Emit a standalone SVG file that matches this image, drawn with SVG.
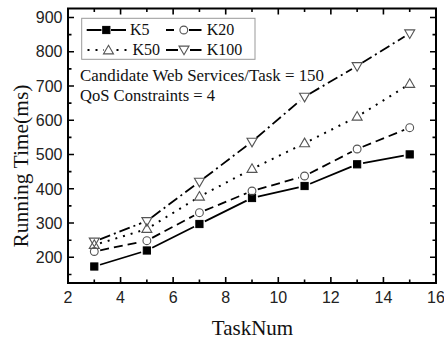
<svg xmlns="http://www.w3.org/2000/svg" xmlns:xlink="http://www.w3.org/1999/xlink" width="444" height="340" viewBox="0 0 444 340">
<style>
.ax{fill:none;stroke:#000;stroke-width:2}
.tk{fill:none;stroke:#000;stroke-width:1.6}
.num{font-family:"Liberation Sans",Arial,sans-serif;font-size:16px;fill:#222}
.lab{font-family:"Liberation Serif","Times New Roman",serif;fill:#111}
.s5{fill:none;stroke:#000;stroke-width:1.8}
.s20{fill:none;stroke:#000;stroke-width:1.8;stroke-dasharray:9 5}
.s50{fill:none;stroke:#000;stroke-width:2;stroke-dasharray:2 6}
.s100{fill:none;stroke:#000;stroke-width:1.8;stroke-dasharray:11 4 2 4}
.mk{fill:none;stroke:#555;stroke-width:1.1}
.mf{fill:#000;stroke:#000;stroke-width:1}
</style>
<defs>
<rect id="sq" x="-3.6" y="-3.6" width="7.2" height="7.2" class="mf"/>
<circle id="ci" cx="0" cy="0" r="3.9" class="mk"/>
<polygon id="tu" points="0,-5.2 5,3.4 -5,3.4" class="mk"/>
<polygon id="td" points="0,5.2 5,-3.4 -5,-3.4" class="mk"/>
</defs>
<rect width="444" height="340" fill="#fff"/>
<g id="axes">
<rect class="ax" x="68" y="8.5" width="368" height="274.5"/>
<path class="tk" d="M120.57,283V277M173.14,283V277M225.71,283V277M278.29,283V277M330.86,283V277M383.43,283V277M94.29,283V279.5M146.86,283V279.5M199.43,283V279.5M252,283V279.5M304.57,283V279.5M357.14,283V279.5M409.71,283V279.5"/>
<path class="tk" d="M120.57,8.5V14.5M173.14,8.5V14.5M225.71,8.5V14.5M278.29,8.5V14.5M330.86,8.5V14.5M383.43,8.5V14.5M94.29,8.5V12M146.86,8.5V12M199.43,8.5V12M252,8.5V12M304.57,8.5V12M357.14,8.5V12M409.71,8.5V12"/>
<path class="tk" d="M68,17.48H74M68,51.74H74M68,86H74M68,120.27H74M68,154.53H74M68,188.79H74M68,223.05H74M68,257.3H74M68,34.61H71.5M68,68.87H71.5M68,103.13H71.5M68,137.4H71.5M68,171.66H71.5M68,205.92H71.5M68,240.18H71.5M68,274.44H71.5"/>
<path class="tk" d="M436,17.48H430M436,51.74H430M436,86H430M436,120.27H430M436,154.53H430M436,188.79H430M436,223.05H430M436,257.3H430M436,34.61H432.5M436,68.87H432.5M436,103.13H432.5M436,137.4H432.5M436,171.66H432.5M436,205.92H432.5M436,240.18H432.5M436,274.44H432.5"/>
<g class="num" text-anchor="end">
<text x="62.5" y="23.2">900</text>
<text x="62.5" y="57.4">800</text>
<text x="62.5" y="91.7">700</text>
<text x="62.5" y="126">600</text>
<text x="62.5" y="160.2">500</text>
<text x="62.5" y="194.5">400</text>
<text x="62.5" y="228.7">300</text>
<text x="62.5" y="263">200</text>
</g>
<g class="num" text-anchor="middle">
<text x="68" y="302.5">2</text>
<text x="120.57" y="302.5">4</text>
<text x="173.14" y="302.5">6</text>
<text x="225.71" y="302.5">8</text>
<text x="278.29" y="302.5">10</text>
<text x="330.86" y="302.5">12</text>
<text x="383.43" y="302.5">14</text>
<text x="436" y="302.5">16</text>
</g>
<text class="lab" x="252.5" y="335" font-size="21" text-anchor="middle">TaskNum</text>
<text class="lab" transform="translate(28,166) rotate(-90)" font-size="22" text-anchor="middle" textLength="163" lengthAdjust="spacingAndGlyphs">Running Time(ms)</text>
</g>
<g id="connectors">
<g id="line-K5" class="s5">
<path d="M100.03,264.75L141.12,252.25M152.22,247.8L194.07,226.7M204.81,221.34L246.62,200.66M257.85,196.66L298.72,187.34M310.12,183.71L351.59,166.59M363.04,163.19L403.81,155.51"/>
</g>
<g id="line-K20" class="s20">
<path d="M100.17,250.29L140.98,241.91"/><path d="M152.16,237.88L194.13,215.52"/><path d="M204.98,210.41L246.45,193.29"/><path d="M257.77,189.35L298.8,177.65"/><path d="M309.91,173.26L351.8,151.74"/><path d="M362.7,146.75L404.15,129.95"/>
</g>
<g id="line-K50" class="s50">
<path d="M100.03,243.25L141.12,230.75"/><path d="M151.97,225.86L194.32,199.84"/><path d="M204.74,193.9L246.69,171.8"/><path d="M257.39,166.36L299.18,145.94"/><path d="M309.92,140.59L351.79,119.41"/><path d="M362.23,113.53L404.62,87.17"/>
</g>
<g id="line-K100" class="s100">
<path d="M99.88,239.32L141.27,223.18"/><path d="M151.67,217.41L194.62,185.29"/><path d="M204.2,178.07L247.23,145.33"/><path d="M256.56,137.8L300.01,100.6"/><path d="M309.75,93.67L351.96,69.03"/><path d="M362.23,62.83L404.62,36.47"/>
</g>
</g>
<g id="markers-K5">
<use xlink:href="#sq" x="94.29" y="266.5"/><use xlink:href="#sq" x="146.86" y="250.5"/><use xlink:href="#sq" x="199.43" y="224"/><use xlink:href="#sq" x="252" y="198"/><use xlink:href="#sq" x="304.57" y="186"/><use xlink:href="#sq" x="357.14" y="164.3"/><use xlink:href="#sq" x="409.71" y="154.4"/>
</g>
<g id="markers-K20">
<use xlink:href="#ci" x="94.29" y="251.5"/><use xlink:href="#ci" x="146.86" y="240.7"/><use xlink:href="#ci" x="199.43" y="212.7"/><use xlink:href="#ci" x="252" y="191"/><use xlink:href="#ci" x="304.57" y="176"/><use xlink:href="#ci" x="357.14" y="149"/><use xlink:href="#ci" x="409.71" y="127.7"/>
</g>
<g id="markers-K50">
<use xlink:href="#tu" x="94.29" y="245"/><use xlink:href="#tu" x="146.86" y="229"/><use xlink:href="#tu" x="199.43" y="196.7"/><use xlink:href="#tu" x="252" y="169"/><use xlink:href="#tu" x="304.57" y="143.3"/><use xlink:href="#tu" x="357.14" y="116.7"/><use xlink:href="#tu" x="409.71" y="84"/>
</g>
<g id="markers-K100">
<use xlink:href="#td" x="94.29" y="241.5"/><use xlink:href="#td" x="146.86" y="221"/><use xlink:href="#td" x="199.43" y="181.7"/><use xlink:href="#td" x="252" y="141.7"/><use xlink:href="#td" x="304.57" y="96.7"/><use xlink:href="#td" x="357.14" y="66"/><use xlink:href="#td" x="409.71" y="33.3"/>
</g>
<g id="legend">
<rect x="81.7" y="18.3" width="173.3" height="41" fill="#fff" stroke="#999" stroke-width="1"/>
<path class="s5" d="M86.7,30H101.5M111,30H126"/>
<use xlink:href="#sq" x="106.3" y="30"/>
<path d="M166,30H174M189,30H201.5" fill="none" stroke="#000" stroke-width="1.8"/>
<use xlink:href="#ci" x="183.8" y="30"/>
<path class="s50" d="M87.5,50H104"/><path class="s50" d="M116.5,50H130"/>
<use xlink:href="#tu" x="108.5" y="50.5"/>
<path d="M166,50H178M190,50H201.5" fill="none" stroke="#000" stroke-width="1.8"/>
<use xlink:href="#td" x="184" y="49.5"/>
<g class="lab" font-size="16">
<text x="130" y="35">K5</text>
<text x="206.7" y="35">K20</text>
<text x="132.5" y="55">K50</text>
<text x="206.7" y="55">K100</text>
</g>
</g>
<g id="notes" class="lab" font-size="17">
<text x="80" y="80.7" textLength="244" lengthAdjust="spacingAndGlyphs">Candidate Web Services/Task = 150</text>
<text x="80" y="100.7" textLength="135" lengthAdjust="spacingAndGlyphs">QoS Constraints = 4</text>
</g>
</svg>
